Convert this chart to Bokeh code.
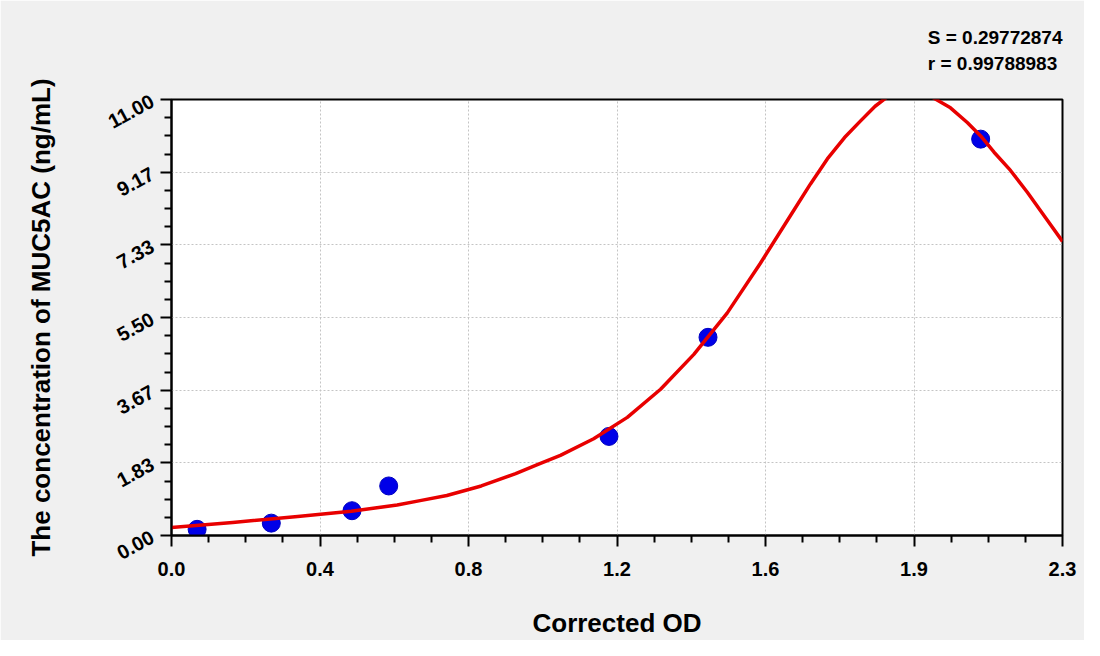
from bokeh.plotting import figure
from bokeh.models import FixedTicker, Title, Range1d
from bokeh.embed import file_html
from bokeh.resources import INLINE

# ---- data ----
x_max = 2.33
y_max = 11.0
x_tick_labels = ["0.0", "0.4", "0.8", "1.2", "1.6", "1.9", "2.3"]
y_tick_labels = ["0.00", "1.83", "3.67", "5.50", "7.33", "9.17", "11.00"]

std_od = [0.067, 0.261, 0.472, 0.568, 1.144, 1.403, 2.116]
std_conc = [0.156, 0.312, 0.625, 1.25, 2.5, 5.0, 10.0]

fit_od = [0.00, 0.16, 0.33, 0.47, 0.59, 0.65, 0.72, 0.81, 0.90, 0.96, 1.017,
          1.104, 1.192, 1.279, 1.366, 1.453, 1.540, 1.627, 1.671, 1.715, 1.76,
          1.802, 1.84, 1.871, 1.93, 1.989, 2.037, 2.081, 2.116, 2.151, 2.194,
          2.238, 2.281, 2.33]
fit_conc = [0.20, 0.33, 0.48, 0.61, 0.77, 0.88, 1.01, 1.25, 1.56, 1.80, 2.02,
            2.44, 2.98, 3.69, 4.57, 5.61, 6.87, 8.20, 8.87, 9.50, 10.04,
            10.46, 10.83, 11.06, 11.22, 11.06, 10.79, 10.42, 10.08, 9.67, 9.21,
            8.66, 8.08, 7.42]

stat_s = "S = 0.29772874"
stat_r = "r = 0.99788983"
x_title = "Corrected OD"
y_title = "The concentration of MUC5AC (ng/mL)"

# ---- ticks ----
n = len(x_tick_labels) - 1
x_ticks = [x_max * i / n for i in range(n + 1)]
x_minor = [x_max * i / (4 * n) for i in range(4 * n + 1) if i % 4]
y_ticks = [y_max * i / n for i in range(n + 1)]
y_minor = [y_max * i / (4 * n) for i in range(4 * n + 1) if i % 4]

FONT = "Liberation Sans"

p = figure(width=1084, height=640, title=None,
           x_range=Range1d(0, x_max), y_range=Range1d(0, y_max),
           output_backend="svg", toolbar_location=None,
           min_border_left=171, min_border_right=22,
           min_border_top=99, min_border_bottom=101,
           background_fill_color="white", border_fill_color="#f0f0f0",
           outline_line_color="black", outline_line_width=2)

p.xaxis.ticker = FixedTicker(ticks=x_ticks, minor_ticks=x_minor)
p.yaxis.ticker = FixedTicker(ticks=y_ticks, minor_ticks=y_minor)
p.xaxis.major_label_overrides = dict(zip(x_ticks, x_tick_labels))
p.yaxis.major_label_overrides = dict(zip(y_ticks, y_tick_labels))
p.yaxis.major_label_orientation = 0.5

for ax in (p.xaxis, p.yaxis):
    ax.axis_line_color = "black"
    ax.axis_line_width = 2
    ax.major_tick_line_color = "black"
    ax.major_tick_line_width = 2
    ax.major_tick_in = 0
    ax.major_tick_out = 11
    ax.minor_tick_line_color = "black"
    ax.minor_tick_line_width = 2
    ax.minor_tick_in = 0
    ax.minor_tick_out = 7
    ax.major_label_text_font = FONT
    ax.major_label_text_font_style = "bold"
    ax.major_label_text_font_size = "20px"
    ax.major_label_text_color = "black"
    ax.axis_label_text_font = FONT
    ax.axis_label_text_font_style = "bold"
    ax.axis_label_text_font_size = "26px"
    ax.axis_label_text_color = "black"

p.xaxis.axis_label = x_title
p.yaxis.axis_label = y_title
p.xaxis.major_label_standoff = 15
p.xaxis.axis_label_standoff = 29
p.yaxis.major_label_standoff = 8
p.yaxis.axis_label_standoff = 44

p.grid.grid_line_color = "#c4c4c4"
p.grid.grid_line_dash = "2 2"
p.grid.grid_line_width = 1

p.scatter(std_od, std_conc, size=18, fill_color="#0000e8", line_color="#0000c0")
p.line(fit_od, fit_conc, line_color="#e80000", line_width=3.5,
       line_join="round")

p.add_layout(Title(text=stat_s + "\n" + stat_r, align="right", text_font=FONT,
                   text_font_style="bold", text_font_size="19px",
                   text_line_height=1.25, text_color="black",
                   vertical_align="top", standoff=48), "above")

open("out.html", "w").write(file_html(p, INLINE))
